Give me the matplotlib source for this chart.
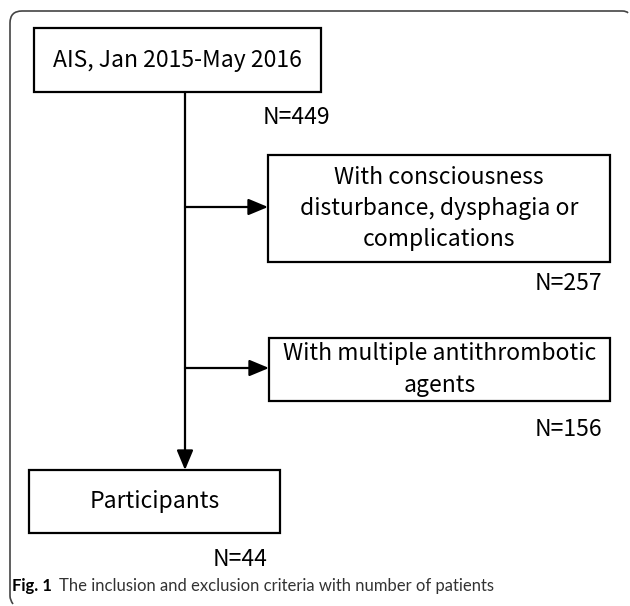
import matplotlib
matplotlib.use("Agg")
import matplotlib.pyplot as plt
from matplotlib.patches import Rectangle, FancyArrowPatch
from matplotlib.path import Path
from matplotlib.patches import PathPatch

# flow chart content
box_labels = [
    "AIS, Jan 2015-May 2016",
    "With consciousness\ndisturbance, dysphagia or\ncomplications",
    "With multiple antithrombotic\nagents",
    "Participants",
]
counts = [449, 257, 156, 44]
caption_bold = "Fig. 1"
caption_text = "The inclusion and exclusion criteria with number of patients"

W, H = 630, 606
fig = plt.figure(figsize=(W / 100, H / 100), dpi=100)
ax = fig.add_axes([0, 0, 1, 1])
ax.set_xlim(0, W)
ax.set_ylim(H, 0)
ax.axis("off")

boxfont = dict(family=["Noto Sans CJK JP", "DejaVu Sans"], fontsize=16.5, color="black")

# outer frame (top and left edge with rounded corners)
r = 12
verts = [(628, 13), (627, 11), (622, 11), (10 + r, 11), (10, 11), (10, 11 + r),
         (10, 596), (10, 600), (13, 604)]
codes = [Path.MOVETO, Path.CURVE3, Path.CURVE3, Path.LINETO, Path.CURVE3, Path.CURVE3,
         Path.LINETO, Path.CURVE3, Path.CURVE3]
ax.add_patch(PathPatch(Path(verts, codes), fill=False, edgecolor="#444444", lw=1.2))

# boxes: (x0, y0, x1, y1)
boxes = [(34, 28, 321, 92), (268, 155, 610, 262), (269, 338, 610, 401), (29, 470, 280, 533)]
for (x0, y0, x1, y1), lab in zip(boxes, box_labels):
    ax.add_patch(Rectangle((x0, y0), x1 - x0, y1 - y0, fill=False, edgecolor="black", lw=1.6))
    ax.text((x0 + x1) / 2, (y0 + y1) / 2, lab, ha="center", va="center",
            linespacing=1.45, **boxfont)

# main vertical line with arrow into participants box
xm = 185
ax.add_patch(FancyArrowPatch((xm, 92), (xm, 470), arrowstyle="-|>,head_length=12,head_width=5",
                             color="black", lw=1.6, shrinkA=0, shrinkB=0))
# side arrows
for yy, (x0, y0, x1, y1) in zip([207, 368], boxes[1:3]):
    ax.add_patch(FancyArrowPatch((xm, yy), (x0, yy), arrowstyle="-|>,head_length=12,head_width=5",
                                 color="black", lw=1.6, shrinkA=0, shrinkB=0))

# counts
ax.text(263, 118, "N=%d" % counts[0], ha="left", va="center", **boxfont)
ax.text(602, 283, "N=%d" % counts[1], ha="right", va="center", **boxfont)
ax.text(602, 430, "N=%d" % counts[2], ha="right", va="center", **boxfont)
ax.text(240, 560, "N=%d" % counts[3], ha="center", va="center", **boxfont)

# caption
t = ax.text(12, 586, caption_bold, ha="left", va="center", fontsize=12,
            family="Lato", fontweight="bold", color="black")
fig.canvas.draw()
bb = t.get_window_extent()
x_after = bb.x1 + 7
ax.text(x_after, 586, caption_text, ha="left", va="center", fontsize=12,
        family="Lato", color="#333333")

fig.savefig("out.png", dpi=100)
